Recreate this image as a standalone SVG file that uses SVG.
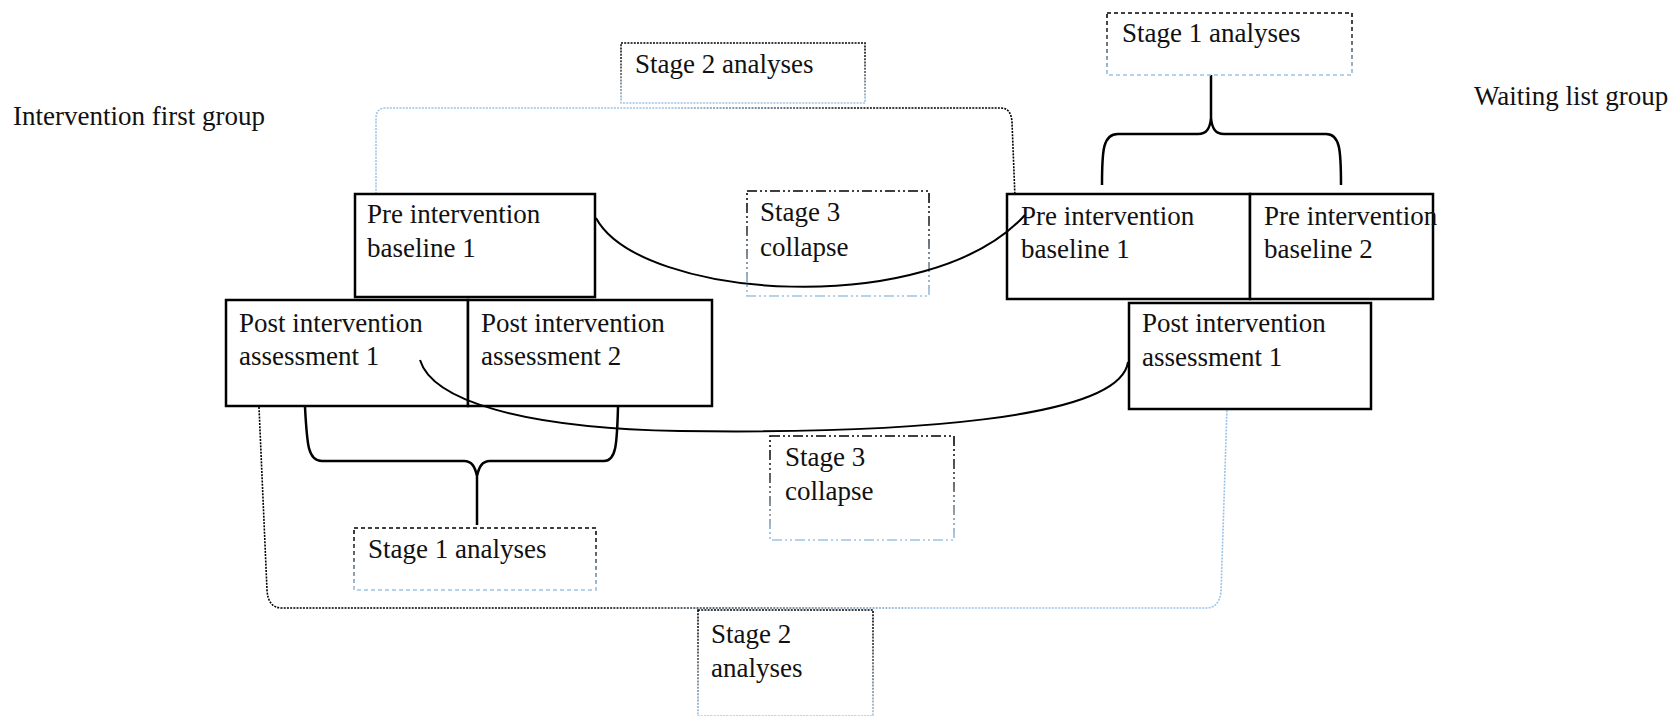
<svg xmlns="http://www.w3.org/2000/svg" width="1677" height="716" viewBox="0 0 1677 716">
<defs>
<linearGradient id="gv" x1="0" y1="0" x2="0" y2="1"><stop offset="0" stop-color="#000"/><stop offset="0.35" stop-color="#333"/><stop offset="1" stop-color="#9dc3e6"/></linearGradient>
<linearGradient id="gbl" x1="0" y1="0" x2="1" y2="0"><stop offset="0" stop-color="#9dc3e6"/><stop offset="0.45" stop-color="#9dc3e6"/><stop offset="0.75" stop-color="#000"/><stop offset="1" stop-color="#000"/></linearGradient>
<linearGradient id="gbr" x1="0" y1="0" x2="1" y2="0"><stop offset="0" stop-color="#000"/><stop offset="0.35" stop-color="#000"/><stop offset="0.7" stop-color="#9dc3e6"/><stop offset="1" stop-color="#9dc3e6"/></linearGradient>
<style>
text{font-family:"Liberation Serif","Times New Roman",serif;font-size:27px;fill:#111}
.box{fill:#fff;stroke:#000;stroke-width:2.5}
.s1{fill:#fff;stroke:url(#gv);stroke-width:1.6;stroke-dasharray:4 3}
.s2{fill:#fff;stroke:url(#gv);stroke-width:1.6;stroke-dasharray:2 1.2}
.s3{fill:#fff;stroke:url(#gv);stroke-width:1.6;stroke-dasharray:10 3 2 3 2 3}
.br{fill:none;stroke:#000;stroke-width:2.5}
.cv{fill:none;stroke:#000;stroke-width:2}
.big{fill:none;stroke-width:1.6;stroke-dasharray:2 1.2}
</style>
</defs>
<g id="connectors">
<path class="big" stroke="url(#gbl)" d="M376,194 L376,118 Q376,108 386,108 L1001,108 Q1011,108 1012,122 L1015,198"/>
<path class="big" stroke="url(#gbr)" d="M259,407 L267,590 Q268,608 282,608 L1206,608 Q1219,608 1221,592 L1227,408"/>
<path class="br" d="M1102,185 C1102,150 1103,134 1118,134 L1198,134 C1207,134 1210,128 1211,118 L1211,75 M1211,118 C1212,128 1215,134 1224,134 L1326,134 C1340,134 1341,150 1341,185"/>
<path class="br" d="M305,407 C307,445 308,461 322,461 L464,461 C472,461 475,467 477,476 L477,525 M477,476 C479,467 482,461 490,461 L604,461 C616,461 617,445 618,407"/>
</g>
<g id="stage2-top"><rect class="s2" x="621" y="43" width="244" height="60"/><text x="635" y="73">Stage 2 analyses</text></g>
<g id="stage1-top"><rect class="s1" x="1107" y="13" width="245" height="62"/><text x="1122" y="42">Stage 1 analyses</text></g>
<g id="label-left"><text x="13" y="125">Intervention first group</text></g>
<g id="label-right"><text x="1474" y="105">Waiting list group</text></g>
<g id="stage3-top"><rect class="s3" x="747" y="191" width="182" height="105"/><text x="760" y="221">Stage 3</text><text x="760" y="256">collapse</text></g>
<g id="stage3-bottom"><rect class="s3" x="770" y="436" width="184" height="104"/><text x="785" y="466">Stage 3</text><text x="785" y="500">collapse</text></g>
<g id="stage1-bottom"><rect class="s1" x="354" y="528" width="242" height="62"/><text x="368" y="558">Stage 1 analyses</text></g>
<g id="stage2-bottom"><rect class="s2" x="698" y="610" width="175" height="106"/><text x="711" y="643">Stage 2</text><text x="711" y="677">analyses</text></g>
<g id="left-pre"><rect class="box" x="355" y="194" width="240" height="103"/><text x="367" y="223">Pre intervention</text><text x="367" y="257">baseline 1</text></g>
<g id="left-post1"><rect class="box" x="226" y="300" width="242" height="106"/><text x="239" y="332">Post intervention</text><text x="239" y="365">assessment 1</text></g>
<g id="left-post2"><rect class="box" x="468" y="300" width="244" height="106"/><text x="481" y="332">Post intervention</text><text x="481" y="365">assessment 2</text></g>
<g id="right-pre1"><rect class="box" x="1007" y="194" width="243" height="105"/><text x="1021" y="225">Pre intervention</text><text x="1021" y="258">baseline 1</text></g>
<g id="right-pre2"><rect class="box" x="1250" y="194" width="183" height="105"/><text x="1264" y="225">Pre intervention</text><text x="1264" y="258">baseline 2</text></g>
<g id="right-post1"><rect class="box" x="1129" y="303" width="242" height="106"/><text x="1142" y="332">Post intervention</text><text x="1142" y="366">assessment 1</text></g>
<g id="curves">
<path class="cv" d="M596,218 C640,300 930,320 1025,215"/>
<path class="cv" d="M420,360 C432,400 520,428 680,431 C900,434 1120,420 1128,362"/>
</g>
</svg>
